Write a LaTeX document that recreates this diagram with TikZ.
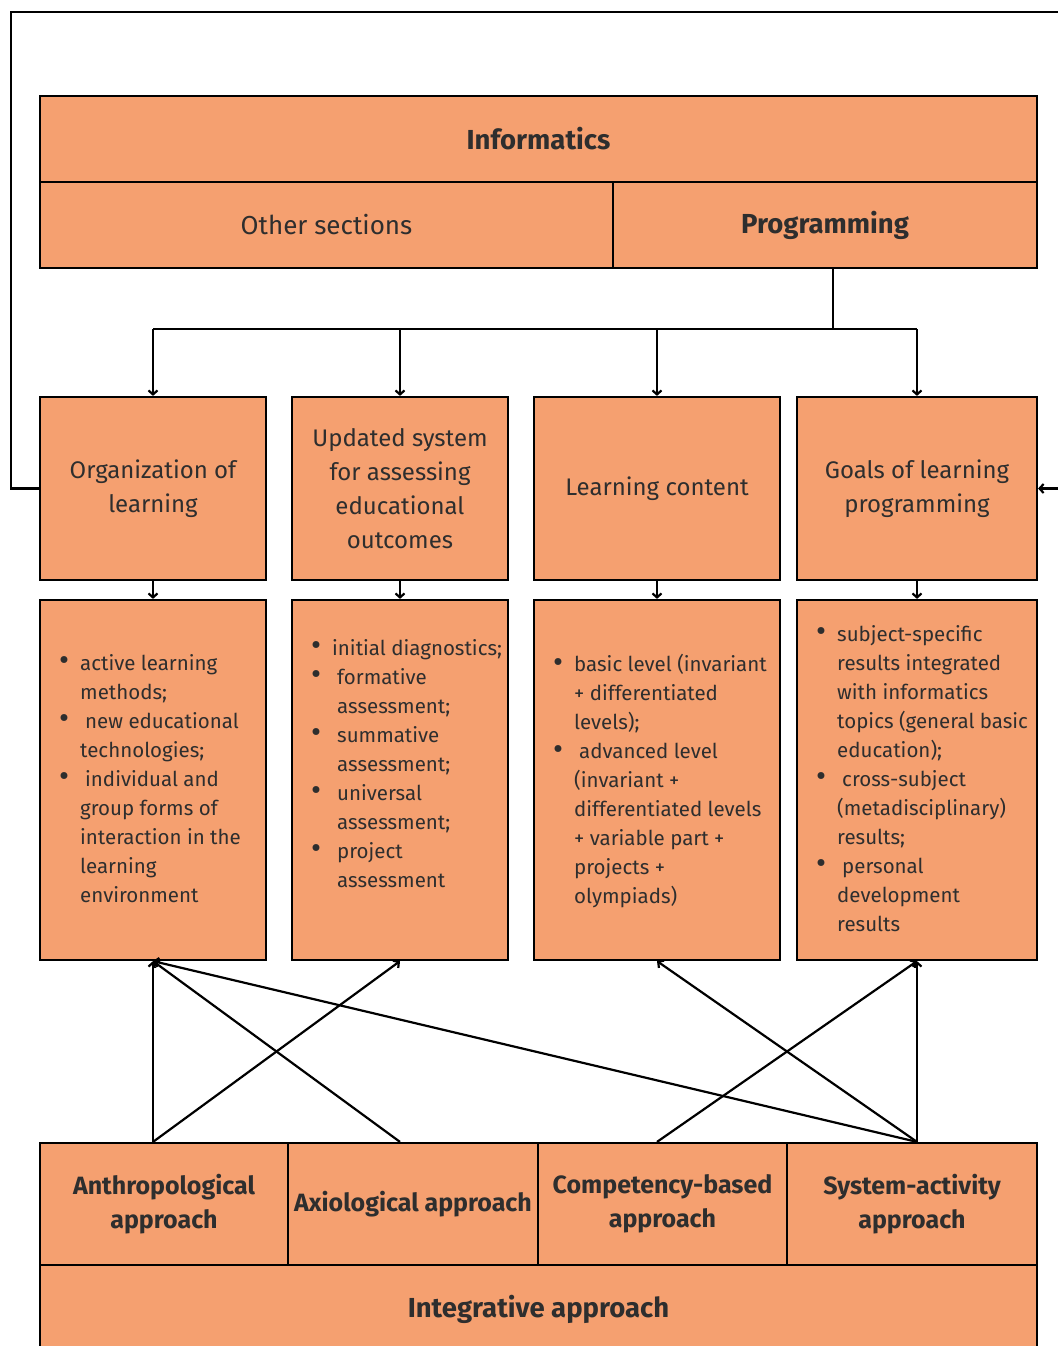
\documentclass[tikz,border=0pt]{standalone}
\usepackage{fontspec}
\setmainfont{Fira Sans}
\usetikzlibrary{arrows.meta}
\definecolor{boxfill}{HTML}{F5A070}
\definecolor{ink}{HTML}{2E2E2E}
\newcommand\bul{\llap{\raisebox{-0.5pt}{\scalebox{1.5}{\textbullet}}\hspace{11pt}}}
\newcommand\gap{\hspace{5pt}}
\begin{document}
\begin{tikzpicture}[x=1pt,y=-1pt,
  box/.style={draw=black, line width=2.2pt, fill=boxfill, inner sep=0pt, text=ink},
  title/.style={box, align=center, font=\fontsize{24}{34}\selectfont},
  head/.style={box, align=center, font=\bfseries\fontsize{27.5}{34}\selectfont},
  appr/.style={box, align=center, font=\bfseries\fontsize{25}{34}\selectfont},
  plain/.style={box, align=center, font=\fontsize{26}{34}\selectfont},
  list/.style={anchor=north west, inner sep=0pt, align=left, text=ink,
    font=\fontsize{20.5}{29}\selectfont},
  link/.style={line width=2.2pt, draw=black},
  arr/.style={link, -{Straight Barb[length=4pt,width=9pt]}}]
\useasboundingbox (0,0) rectangle (1057,1346);

% top block: subject and its sections
\node[head, minimum width=997, minimum height=86] (inf) at (538.5,139) {Informatics};
\node[plain, minimum width=573, minimum height=86] (other) at (326.5,225) {Other sections};
\node[head, minimum width=424, minimum height=86] (prog) at (825,225) {Programming};

% components of the methodical system
\node[title, minimum width=226, minimum height=183] (org) at (153,488.5) {Organization of\\learning};
\node[title, minimum width=216, minimum height=183] (assess) at (400,488.5) {Updated system\\for assessing\\educational\\outcomes};
\node[title, minimum width=246, minimum height=183] (content) at (657,488.5) {Learning content};
\node[title, minimum width=240, minimum height=183] (goals) at (917,488.5) {Goals of learning\\programming};

% detail boxes
\node[box, minimum width=226, minimum height=360] (lorg) at (153,780) {};
\node[box, minimum width=216, minimum height=360] (lassess) at (400,780) {};
\node[box, minimum width=246, minimum height=360] (lcontent) at (657,780) {};
\node[box, minimum width=240, minimum height=360] (lgoals) at (917,780) {};

\node[list] (torg) at (80,654) {\bul active learning\\methods;\\\bul\gap new educational\\technologies;\\\bul\gap individual and\\group forms of\\interaction in the\\learning\\environment};
\node[list] (tassess) at (332,639) {\bul initial diagnostics;\\\bul\gap formative\\\gap assessment;\\\bul\gap summative\\\gap assessment;\\\bul\gap universal\\\gap assessment;\\\bul\gap project\\\gap assessment};
\node[list] (tcontent) at (574,654) {\bul basic level (invariant\\+ differentiated\\levels);\\\bul\gap advanced level\\(invariant +\\differentiated levels\\+ variable part +\\projects +\\olympiads)};
\node[list] (tgoals) at (837,625) {\bul subject-specific\\results integrated\\with informatics\\topics (general basic\\education);\\\bul\gap cross-subject\\(metadisciplinary)\\results;\\\bul\gap personal\\development\\results};

% approaches
\node[appr, minimum width=248, minimum height=122] (anth) at (164,1204) {Anthropological\\approach};
\node[appr, minimum width=250, minimum height=122] (axio) at (413,1204) {Axiological approach};
\node[appr, minimum width=249, minimum height=122] (comp) at (662.5,1204) {Competency-based\\approach};
\node[appr, minimum width=250, minimum height=122] (sys) at (912,1204) {System-activity\\approach};
\node[head, minimum width=997, minimum height=88] (integ) at (538.5,1309) {Integrative approach};

% distribution from Programming
\coordinate (split) at (833,329);
\draw[link] (prog.south -| split) -- (split);
\draw[link] (org.north |- split) -- (goals.north |- split);
\foreach \n in {org,assess,content,goals}
  \draw[arr] (\n.north |- split) -- (\n.north);
\foreach \n in {org,assess,content,goals}
  \draw[arr] (\n.south) -- (l\n.north);

% feedback loop round the whole scheme
\coordinate (fbL) at (11,12);
\coordinate (fbR) at (1062,12);
\draw[arr] (org.west) -| (fbL) -- (fbR) |- (goals.east);

% approaches feeding the components
\coordinate (sA) at (anth.north -| lorg.south);
\coordinate (sB) at (axio.north -| lassess.south);
\coordinate (sC) at (comp.north -| lcontent.south);
\coordinate (sD) at (sys.north -| lgoals.south);
\draw[arr] (sA) -- (lorg.south);
\draw[arr] (sA) -- (lassess.south);
\draw[arr] (sB) -- (lorg.south);
\draw[arr] (sD) -- (lorg.south);
\draw[arr] (sC) -- (lgoals.south);
\draw[arr] (sD) -- (lcontent.south);
\draw[arr] (sD) -- (lgoals.south);
\end{tikzpicture}
\end{document}
